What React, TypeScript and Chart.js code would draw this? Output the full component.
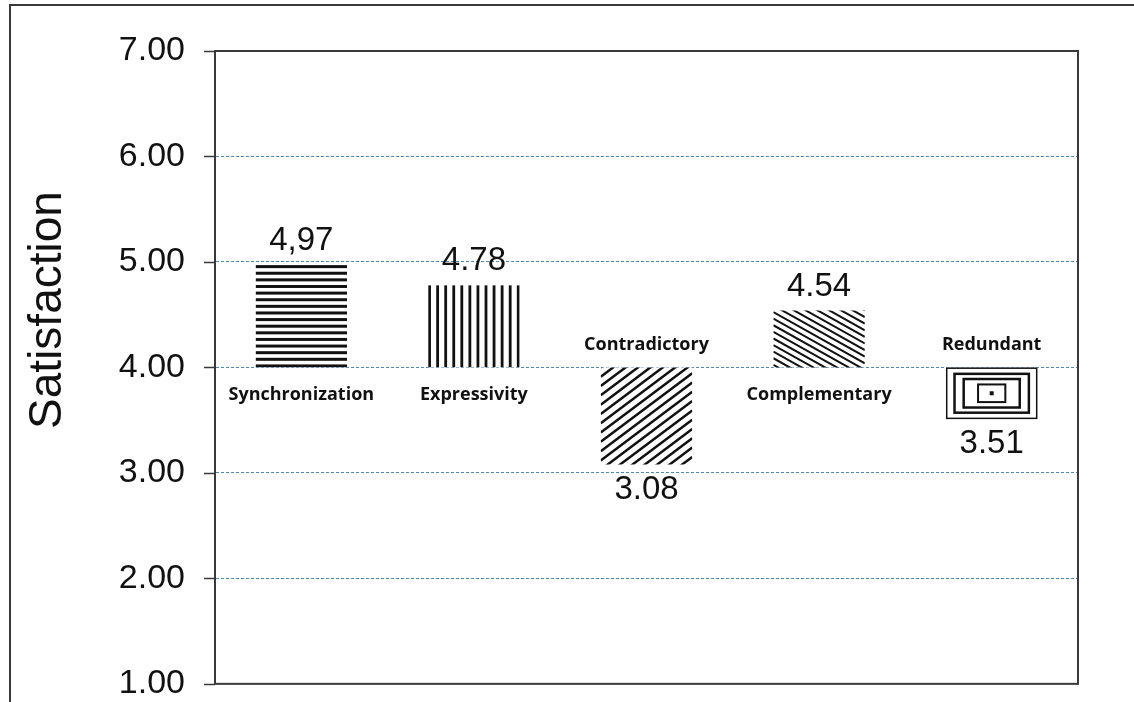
import React, { useEffect, useRef } from "react";
import { Chart, registerables } from "chart.js";

Chart.register(...registerables);

const categories = ["Synchronization", "Expressivity", "Contradictory", "Complementary", "Redundant"];
const values = [4.97, 4.78, 3.08, 4.54, 3.51];
const valueLabels = ["4,97", "4.78", "3.08", "4.54", "3.51"];
const baseline = 4;
const hatchKinds = ["h", "v", "slash", "backslash", "rings"];
const yMin = 1;
const yMax = 7;
const axisTitle = "Satisfaction";

const DARK = "#3a3838";
const GRID = "#4f86b8";
const TICK_MARK = 11;

function drawHatch(ctx: CanvasRenderingContext2D, kind: string, l: number, t: number, r: number, b: number) {
  const w = r - l;
  const h = b - t;
  ctx.save();
  ctx.fillStyle = "#ffffff";
  ctx.fillRect(l, t, w, h);
  if (kind === "rings") {
    const insX = [0, 0.08, 0.18, 0.34];
    const insY = [0, 0.1, 0.2, 0.31];
    const lw = [1.5, 2.5, 2.5, 2];
    for (let i = 0; i < insX.length; i++) {
      const dx = insX[i] * w;
      const dy = insY[i] * h;
      ctx.strokeStyle = "#111";
      ctx.lineWidth = lw[i];
      ctx.strokeRect(l + dx + lw[i] / 2, t + dy + lw[i] / 2, w - 2 * dx - lw[i], h - 2 * dy - lw[i]);
    }
    ctx.fillStyle = "#111";
    ctx.fillRect(l + w / 2 - 2, t + h / 2 - 2, 4, 4);
    ctx.restore();
    return;
  }
  ctx.beginPath();
  ctx.rect(l, t, w, h);
  ctx.clip();
  ctx.fillStyle = "#111";
  ctx.strokeStyle = "#111";
  if (kind === "h") {
    const th = 3;
    const n = Math.max(1, Math.round((h - th) / 6.6));
    const step = (h - th) / n;
    for (let i = 0; i <= n; i++) ctx.fillRect(l, t + i * step, w, th);
  } else if (kind === "v") {
    const th = 2.8;
    const n = Math.max(1, Math.round((w - th) / 8));
    const step = (w - th) / n;
    for (let i = 0; i <= n; i++) ctx.fillRect(l + i * step, t, th, h);
  } else if (kind === "slash") {
    const s = 0.75;
    const d = 9.3;
    ctx.lineWidth = 2.5;
    for (let c = t; c <= b + s * w + d; c += d) {
      ctx.beginPath();
      ctx.moveTo(l, c);
      ctx.lineTo(r, c - s * w);
      ctx.stroke();
    }
  } else if (kind === "backslash") {
    const s = 0.56;
    const d = 6.6;
    ctx.lineWidth = 2;
    for (let c = t - s * w - d; c <= b + d; c += d) {
      ctx.beginPath();
      ctx.moveTo(l, c);
      ctx.lineTo(r, c + s * w);
      ctx.stroke();
    }
  }
  ctx.restore();
}

const decorPlugin = {
  id: "decor",
  beforeDraw(chart: any) {
    const ctx = chart.ctx as CanvasRenderingContext2D;
    ctx.save();
    ctx.fillStyle = "#ffffff";
    ctx.fillRect(0, 0, chart.width, chart.height);
    ctx.strokeStyle = DARK;
    ctx.lineWidth = 2;
    ctx.beginPath();
    ctx.moveTo(10, chart.height);
    ctx.lineTo(10, 5);
    ctx.lineTo(chart.width, 5);
    ctx.stroke();
    ctx.restore();
  },
  afterDatasetsDraw(chart: any) {
    const ctx = chart.ctx as CanvasRenderingContext2D;
    const meta = chart.getDatasetMeta(0);
    meta.data.forEach((el: any, i: number) => {
      const { x, y, base, width } = el.getProps(["x", "y", "base", "width"], true);
      const l = x - width / 2;
      const r = x + width / 2;
      const t = Math.min(y, base);
      const b = Math.max(y, base);
      drawHatch(ctx, hatchKinds[i], l, t, r, b);
      const up = values[i] >= baseline;
      ctx.save();
      ctx.fillStyle = "#111";
      ctx.textAlign = "center";
      ctx.textBaseline = "middle";
      ctx.font = '33px "Liberation Sans", Arial, sans-serif';
      ctx.fillText(valueLabels[i], x, up ? t - 24 : b + 25);
      ctx.font = 'bold 18px "Open Sans", sans-serif';
      ctx.fillText(categories[i], x, up ? b + 27 : t - 23);
      ctx.restore();
    });
  },
  afterDraw(chart: any) {
    const ctx = chart.ctx as CanvasRenderingContext2D;
    const a = chart.chartArea;
    const ys = chart.scales.y;
    ctx.save();
    ctx.strokeStyle = DARK;
    ctx.lineWidth = 1.5;
    ys.ticks.forEach((t: any) => {
      const py = Math.round(ys.getPixelForValue(t.value)) + 0.5;
      ctx.beginPath();
      ctx.moveTo(a.left - TICK_MARK, py);
      ctx.lineTo(a.left, py);
      ctx.stroke();
    });
    ctx.lineWidth = 2;
    ctx.strokeRect(a.left, a.top, a.right - a.left, a.bottom - a.top);
    ctx.translate(48, 310);
    ctx.rotate(-Math.PI / 2);
    ctx.fillStyle = "#111";
    ctx.textAlign = "center";
    ctx.textBaseline = "middle";
    ctx.font = '46px "Liberation Sans", Arial, sans-serif';
    ctx.fillText(axisTitle, 0, 0);
    ctx.restore();
  },
};

export default function App() {
  const ref = useRef<HTMLCanvasElement | null>(null);
  useEffect(() => {
    if (!ref.current) return;
    const chart = new Chart(ref.current, {
      type: "bar",
      data: {
        labels: categories,
        datasets: [
          {
            data: values.map((v) => [baseline, v]) as any,
            backgroundColor: "rgba(0,0,0,0)",
            borderWidth: 0,
            barPercentage: 1,
            categoryPercentage: 0.53,
          },
        ],
      },
      options: {
        animation: false,
        responsive: false,
        layout: { padding: { left: 0, top: 51, right: 56, bottom: 0 } },
        plugins: { legend: { display: false }, tooltip: { enabled: false } },
        scales: {
          x: { type: "category", display: false, grid: { display: false } },
          y: {
            min: yMin,
            max: yMax,
            afterFit: (s: any) => {
              s.width = 215;
            },
            ticks: {
              stepSize: 1,
              padding: 2,
              color: "#111",
              font: { family: '"Liberation Sans", Arial, sans-serif', size: 34, lineHeight: 0.95 },
              callback: (v: any) => Number(v).toFixed(2),
            },
            grid: {
              color: (c: any) => (c.tick && (c.tick.value === yMin || c.tick.value === yMax) ? "rgba(0,0,0,0)" : GRID),
              lineWidth: 1,
              tickLength: 28,
              tickColor: "rgba(0,0,0,0)",
            } as any,
            border: { display: true, color: DARK, width: 2, dash: [3, 2] },
          },
        },
      },
      plugins: [decorPlugin],
    });
    return () => chart.destroy();
  }, []);
  return (
    <div style={{ position: "absolute", left: 0, top: 0, width: 1134, height: 702 }}>
      <canvas ref={ref} width={1134} height={702} style={{ display: "block", width: 1134, height: 702 }} />
    </div>
  );
}
